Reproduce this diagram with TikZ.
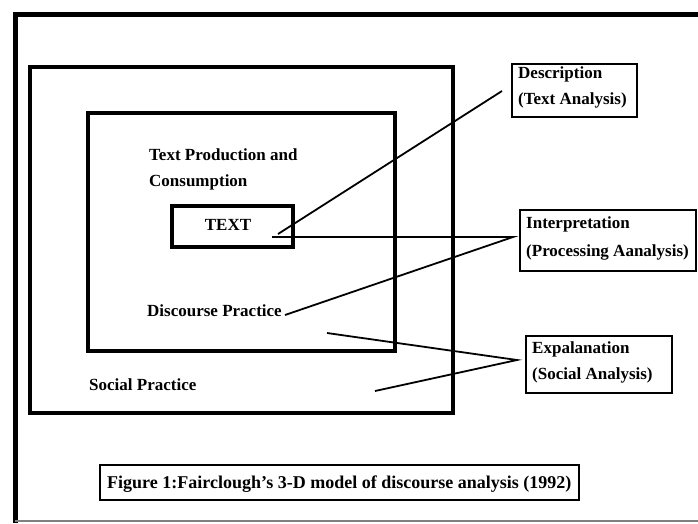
\documentclass[tikz,border=0pt]{standalone}
\usepackage{fontspec}
\setmainfont{Liberation Serif}
\usetikzlibrary{positioning}

\begin{document}
\begin{tikzpicture}[x=1pt,y=-1pt,
    lbl/.style={anchor=base west,inner sep=0pt,font=\fontsize{17}{17}\selectfont\bfseries},
    levelbox/.style={draw,line width=3.2pt},
    tagbox/.style={draw,line width=2.2pt},
    link/.style={line width=1.8pt}]
    \useasboundingbox (0,0) rectangle (698,523);

    % outer frame
    \draw[line width=5pt] (700,14) -- (15,14) -- (15,523);
    \draw[gray,line width=1.2pt] (15,521) -- (700,521);

    % the three nested levels
    \draw[levelbox] (30,67) rectangle (453,413);
    \draw[levelbox] (88,113) rectangle (395,351);
    \draw[levelbox] (172,206) rectangle (293,247);

    % analysis boxes on the right
    \draw[tagbox] (512,64) rectangle (637,117);
    \draw[tagbox] (520,210) rectangle (696,271);
    \draw[tagbox] (526,336) rectangle (672,393);
    \draw[tagbox,line width=2.6pt] (100,465) rectangle (579,500);

    % labels
    \node[lbl] (prod) at (149,160) {Text Production and};
    \node[lbl] (cons) at (149,186) {Consumption};
    \node[lbl,anchor=base] (text) at (228,230) {TEXT};
    \node[lbl] (disc) at (147,316) {Discourse Practice};
    \node[lbl] (soc) at (89,390) {Social Practice};

    \node[lbl] (desc) at (518,78) {Description};
    \node[lbl] (desca) at (518,104) {(Text Analysis)};
    \node[lbl] (interp) at (526,228) {Interpretation};
    \node[lbl] (interpa) at (526,256) {(Processing Aanalysis)};
    \node[lbl] (expl) at (532,353) {Expalanation};
    \node[lbl] (expla) at (532,379) {(Social Analysis)};

    \node[lbl,font=\fontsize{18}{18}\selectfont\bfseries] (caption) at (107,488) {Figure 1:Fairclough's 3-D model of discourse analysis (1992)};

    % connector ends
    \coordinate (t1) at (278,234);
    \coordinate (t2) at (272,237);
    \coordinate (d1) at (285,315);
    \coordinate (s1) at (327,333);
    \coordinate (s2) at (375,391);
    \coordinate (descpt) at (502,91);
    \coordinate (interppt) at (513,237);
    \coordinate (explpt) at (517,360);

    \draw[link] (t1) -- (descpt);
    \draw[link] (t2) -- (interppt) -- (d1);
    \draw[link] (s1) -- (explpt) -- (s2);
\end{tikzpicture}
\end{document}
